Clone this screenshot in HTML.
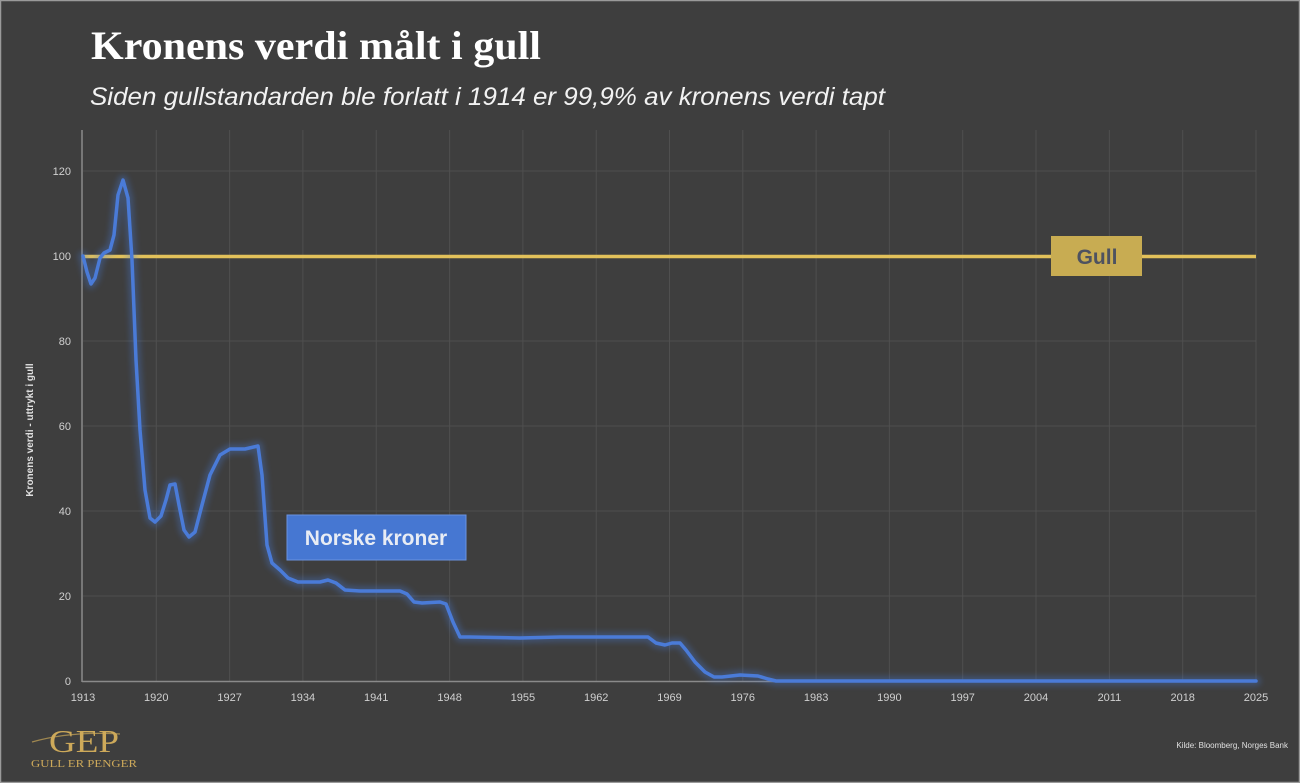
<!DOCTYPE html>
<html><head><meta charset="utf-8"><style>
html,body{margin:0;padding:0;background:#3e3e3e;}
svg{display:block;}
</style></head><body>
<svg width="1300" height="783" viewBox="0 0 1300 783" xmlns="http://www.w3.org/2000/svg">
<defs>
<filter id="glowb" x="-10%" y="-10%" width="120%" height="120%"><feGaussianBlur stdDeviation="3"/></filter>
</defs>
<rect x="0" y="0" width="1300" height="783" fill="#3e3e3e"/>
<rect x="0.5" y="0.5" width="1299" height="782" fill="none" stroke="#9a9a9a" stroke-width="1.5"/>
<text x="91" y="59" font-family="Liberation Serif, serif" font-weight="bold" font-size="40" fill="#fff" textLength="450" lengthAdjust="spacingAndGlyphs">Kronens verdi målt i gull</text>
<text x="90" y="105" font-family="Liberation Sans, sans-serif" font-style="italic" font-size="25" fill="#f2f2f2" textLength="795" lengthAdjust="spacingAndGlyphs">Siden gullstandarden ble forlatt i 1914 er 99,9% av kronens verdi tapt</text>
<g stroke="#4f4f4f" stroke-width="1">
<line x1="83" y1="171" x2="1256" y2="171"/>
<line x1="83" y1="341" x2="1256" y2="341"/>
<line x1="83" y1="426" x2="1256" y2="426"/>
<line x1="83" y1="511" x2="1256" y2="511"/>
<line x1="83" y1="596" x2="1256" y2="596"/>
<line x1="83" y1="256" x2="1256" y2="256"/>
<line x1="156.3" y1="130" x2="156.3" y2="681"/>
<line x1="229.6" y1="130" x2="229.6" y2="681"/>
<line x1="302.9" y1="130" x2="302.9" y2="681"/>
<line x1="376.2" y1="130" x2="376.2" y2="681"/>
<line x1="449.6" y1="130" x2="449.6" y2="681"/>
<line x1="522.9" y1="130" x2="522.9" y2="681"/>
<line x1="596.2" y1="130" x2="596.2" y2="681"/>
<line x1="669.5" y1="130" x2="669.5" y2="681"/>
<line x1="742.8" y1="130" x2="742.8" y2="681"/>
<line x1="816.1" y1="130" x2="816.1" y2="681"/>
<line x1="889.4" y1="130" x2="889.4" y2="681"/>
<line x1="962.7" y1="130" x2="962.7" y2="681"/>
<line x1="1036" y1="130" x2="1036" y2="681"/>
<line x1="1109.4" y1="130" x2="1109.4" y2="681"/>
<line x1="1182.7" y1="130" x2="1182.7" y2="681"/>
<line x1="1256" y1="130" x2="1256" y2="681"/>
</g>
<line x1="82" y1="130" x2="82" y2="682" stroke="#8a8a8a" stroke-width="1.5"/>
<line x1="82" y1="681.5" x2="1256" y2="681.5" stroke="#8a8a8a" stroke-width="1.5"/>
<g font-family="Liberation Sans, sans-serif" font-size="11" fill="#d0d0d0" text-anchor="end">
<text x="71" y="175">120</text><text x="71" y="260">100</text><text x="71" y="345">80</text>
<text x="71" y="430">60</text><text x="71" y="515">40</text><text x="71" y="600">20</text><text x="71" y="685">0</text>
</g>
<g font-family="Liberation Sans, sans-serif" font-size="11" fill="#d0d0d0" text-anchor="middle">
<text x="83" y="701">1913</text><text x="156.3" y="701">1920</text><text x="229.6" y="701">1927</text><text x="302.9" y="701">1934</text><text x="376.2" y="701">1941</text><text x="449.6" y="701">1948</text><text x="522.9" y="701">1955</text><text x="596.2" y="701">1962</text><text x="669.5" y="701">1969</text><text x="742.8" y="701">1976</text><text x="816.1" y="701">1983</text><text x="889.4" y="701">1990</text><text x="962.7" y="701">1997</text><text x="1036" y="701">2004</text><text x="1109.4" y="701">2011</text><text x="1182.7" y="701">2018</text><text x="1256" y="701">2025</text>
</g>
<text transform="translate(33,430) rotate(-90)" font-family="Liberation Sans, sans-serif" font-size="10" font-weight="bold" fill="#e0e0e0" text-anchor="middle">Kronens verdi - uttrykt i gull</text>
<line x1="83" y1="256.5" x2="1256" y2="256.5" stroke="#a0642a" stroke-width="10" opacity="0.45" filter="url(#glowb)"/>
<line x1="83" y1="256.5" x2="1256" y2="256.5" stroke="#e2c15a" stroke-width="3.5"/>
<g fill="none" stroke-linejoin="round" stroke-linecap="round">
<polyline stroke="#4a7fe0" stroke-width="10" opacity="0.3" filter="url(#glowb)" points="83,256 87,272 91,284 95,278 100,258 104,253 110,250 114,235 118,195 123,180 128,198 132,260 136,360 140,430 145,490 150,518 155,522 161,516 166,500 170,485 175,484 179,505 184,530 189,537 195,532 202,505 210,475 220,455 230,449 245,449 258,446 262,475 267,545 272,563 280,570 288,578 298,582 320,582 328,580 336,583 345,590 360,591 400,591 407,594 414,602 422,603 440,602 446,604 453,622 460,637 470,637 520,638 560,637 640,637 648,637 656,643 665,645 672,643 680,643 686,650 695,662 705,672 714,677 722,677 740,675 758,676 768,679 776,681 1256,681"/>
<polyline stroke="#4a7bd8" stroke-width="3.5" points="83,256 87,272 91,284 95,278 100,258 104,253 110,250 114,235 118,195 123,180 128,198 132,260 136,360 140,430 145,490 150,518 155,522 161,516 166,500 170,485 175,484 179,505 184,530 189,537 195,532 202,505 210,475 220,455 230,449 245,449 258,446 262,475 267,545 272,563 280,570 288,578 298,582 320,582 328,580 336,583 345,590 360,591 400,591 407,594 414,602 422,603 440,602 446,604 453,622 460,637 470,637 520,638 560,637 640,637 648,637 656,643 665,645 672,643 680,643 686,650 695,662 705,672 714,677 722,677 740,675 758,676 768,679 776,681 1256,681"/>
</g>
<rect x="1051" y="236" width="91" height="40" fill="#c8ac52"/>
<text x="1097" y="264" font-family="Liberation Sans, sans-serif" font-weight="bold" font-size="21" fill="#4e5260" text-anchor="middle">Gull</text>
<rect x="287" y="515" width="179" height="45" fill="#4677d2" stroke="#6b93e0" stroke-width="1"/>
<text x="376" y="545" font-family="Liberation Sans, sans-serif" font-weight="bold" font-size="21" fill="#e8ecf4" text-anchor="middle">Norske kroner</text>
<path d="M32,742 Q70,731 120,734" stroke="#b89a55" stroke-width="1.2" fill="none" opacity="0.8"/>
<text x="84" y="752" font-family="Liberation Serif, serif" font-size="32" fill="#cda95a" text-anchor="middle" textLength="70" lengthAdjust="spacingAndGlyphs">GEP</text>
<text x="84" y="767" font-family="Liberation Serif, serif" font-size="11" fill="#cda95a" text-anchor="middle" textLength="106" lengthAdjust="spacingAndGlyphs">GULL ER PENGER</text>
<text x="1288" y="748" font-family="Liberation Sans, sans-serif" font-size="8" fill="#e0e0e0" text-anchor="end">Kilde: Bloomberg, Norges Bank</text>
</svg>
</body></html>
